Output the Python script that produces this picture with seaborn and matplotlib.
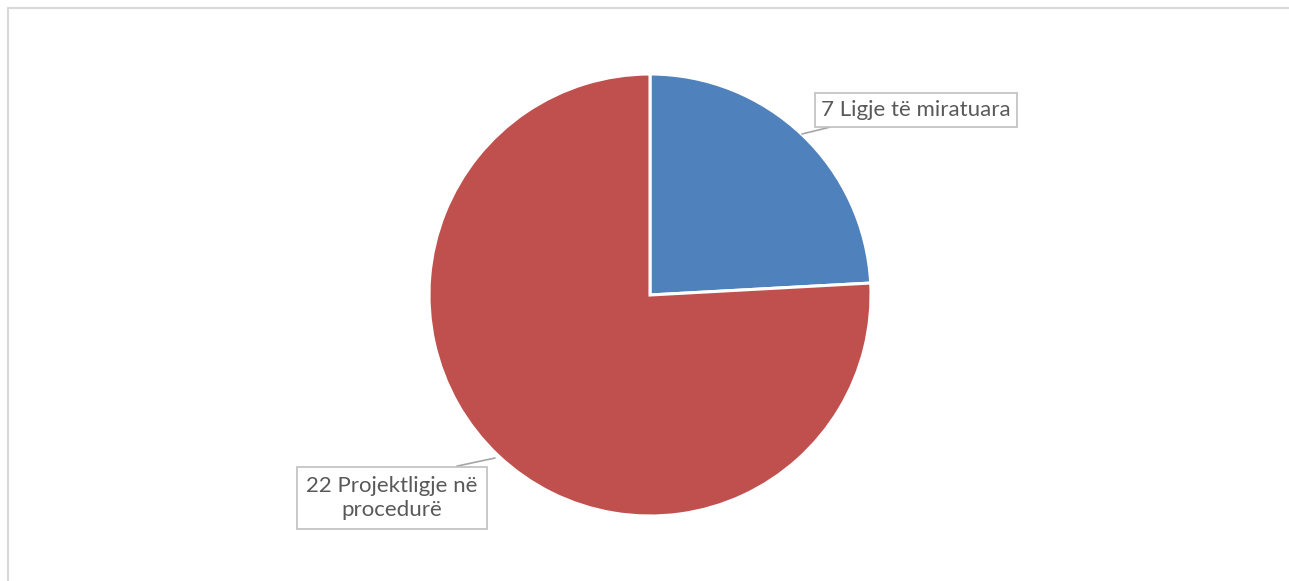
import matplotlib
matplotlib.use("Agg")
from matplotlib import pyplot as plt
from matplotlib.patches import Rectangle
import seaborn as sns

sns.set_theme(style="white")
plt.rcParams['font.family'] = ['Lato', 'DejaVu Sans']

# data
values = [7, 22]
labels = ['7 Ligje të miratuara', '22 Projektligje në\nprocedurë']
colors = ['#4F81BD', '#C0504D']

W, H = 1289, 581
fig = plt.figure(figsize=(W / 100, H / 100), dpi=100)

# frame of chart area (clipped at right/bottom)
fig.patches.append(Rectangle((8 / W, -0.1), 1.2, (H - 8) / H + 0.1, transform=fig.transFigure,
                             fill=False, ec='#D9D9D9', lw=1.5))

cx, cy, r = 650, 295, 221
ax = fig.add_axes([(cx - r) / W, (H - cy - r) / H, 2 * r / W, 2 * r / H])
wedges, _ = ax.pie(values, colors=colors, startangle=90, counterclock=False,
                   wedgeprops=dict(edgecolor='white', linewidth=2.2))
ax.set_xlim(-1, 1)
ax.set_ylim(-1, 1)
ax.set_aspect('equal')
ax.axis('off')


def px(x, y):
    return ((x - cx) / r, (cy - y) / r)


box = dict(boxstyle='square,pad=0.3', fc='white', ec='#BFBFBF', lw=1.2)
box2 = dict(boxstyle='square,pad=0.4', fc='white', ec='#BFBFBF', lw=1.2)
line = '#A6A6A6'
ax.annotate(labels[0], xy=px(802, 134), xytext=px(916, 110), ha='center', va='center',
            fontsize=16, color='#595959', bbox=box, annotation_clip=False,
            arrowprops=dict(arrowstyle='-', color=line, lw=1.2, relpos=(0.2, 0), shrinkA=0, shrinkB=0))
ax.annotate(labels[1], xy=px(495, 458), xytext=px(392, 498), ha='center', va='center',
            multialignment='center', fontsize=16, color='#595959', bbox=box2,
            annotation_clip=False, linespacing=1.3,
            arrowprops=dict(arrowstyle='-', color=line, lw=1.2, relpos=(0.62, 1), shrinkA=0, shrinkB=0))

plt.savefig('out.png', dpi=100)
